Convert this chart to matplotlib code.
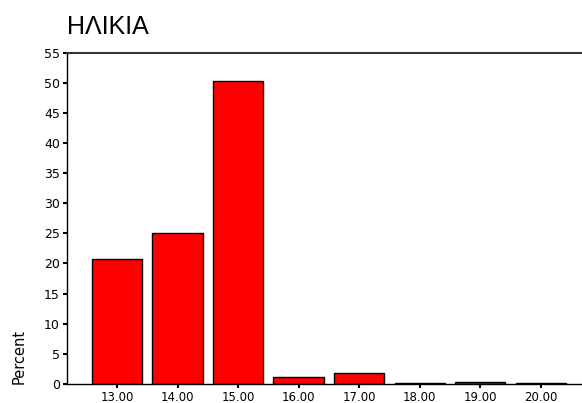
import matplotlib.pyplot as plt

# age distribution (percent)
ages = ['13.00', '14.00', '15.00', '16.00', '17.00', '18.00', '19.00', '20.00']
percent = [20.8, 25.0, 50.2, 1.2, 1.8, 0.2, 0.4, 0.2]
yticks = [0, 5, 10, 15, 20, 25, 30, 35, 40, 45, 50, 55]

plt.rcParams['font.family'] = ['DejaVu Sans']

fig = plt.figure(figsize=(5.82, 4.03), dpi=100)
ax = fig.add_axes([0.1146, 0.0471, 0.8854, 0.8226])

pos = list(range(len(ages)))
ax.bar(pos, percent, width=0.83, color='#ff0000', edgecolor='black', linewidth=1)

ax.set_xlim(-0.83, 7.68)
ax.set_ylim(0, 55)
ax.set_xticks(pos)
ax.set_xticklabels(ages, fontsize=8.5)
ax.set_yticks(yticks)
ax.set_yticklabels([str(t) for t in yticks], fontsize=9)
ax.tick_params(axis='both', length=3, width=1.5, direction='out', pad=2)

ax.spines['right'].set_visible(False)
ax.spines['top'].set_color('#333333')
ax.spines['top'].set_linewidth(1.5)
for s in ['left', 'bottom']:
    ax.spines[s].set_linewidth(1)

ax.set_ylabel('Percent', fontsize=10.5, loc='bottom', labelpad=12)
ax.set_title('ΗΛΙΚΙΑ', fontsize=18, loc='left', pad=13,
             family=['Liberation Sans', 'DejaVu Sans'])

fig.savefig('out.png', dpi=100)
